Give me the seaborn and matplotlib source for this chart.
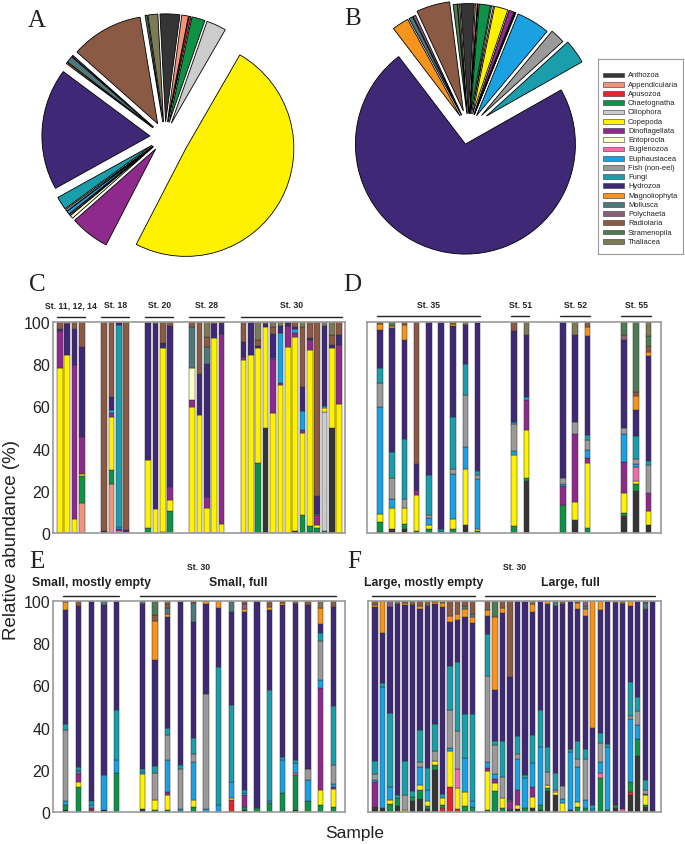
import numpy as np
import pandas as pd
import matplotlib
matplotlib.use("Agg")
import matplotlib.pyplot as plt
import seaborn as sns
from matplotlib.patches import Rectangle

# ---------------- data ----------------
CATS = ["Anthozoa", "Appendicularia", "Apusozoa", "Chaetognatha", "Ciliophora",
        "Copepoda", "Dinoflagellata", "Entoprocta", "Euglenozoa", "Euphausiacea",
        "Fish (non-eel)", "Fungi", "Hydrozoa", "Magnoliophyta", "Mollusca",
        "Polychaeta", "Radiolaria", "Stramenopila", "Thaliacea"]
CODES = ["An", "Ap", "Au", "Ch", "Ci", "Co", "Di", "En", "Eg", "Eu",
         "Fi", "Fu", "Hy", "Ma", "Mo", "Po", "Ra", "St", "Th"]
COLORS = ["#353535", "#f0957b", "#e3262b", "#0f9146", "#cccccc",
          "#fff200", "#8e2a8b", "#ffffcc", "#f06eaa", "#1ba1e2",
          "#9a9a9a", "#1a9eab", "#3f2876", "#f7941d", "#4e7879",
          "#8b5e7c", "#8b5a45", "#4e7a54", "#7d7a58"]

PIE_A = [3, 1, 0.3, 2, 3, 50, 6, 0.5, 0.2, 0.5, 0.3, 2, 18.5, 0.2, 1, 0.2, 11, 0.3, 1.5]
PIE_B = [2, 0.3, 0.1, 1.7, 0.3, 2, 0.8, 0.1, 0.1, 5, 2.2, 3.6, 74, 2.5, 0.6, 0.4, 5, 0.6, 0.3]

C_st11_12_14 = [
    dict(Co=78, Di=17.5, Hy=1, Ra=3.5),
    dict(Co=84.5, Hy=14.5, Ra=1),
    dict(Co=6.5, Di=73, Hy=17, Ra=3.5),
    dict(Ap=14, Ch=13, Co=1, Di=17.5, Hy=42.5, Ra=12),
]
C_st18 = [
    dict(An=0.5, Hy=0.5, Ra=99),
    dict(Ap=23, Ch=7, Co=25, Di=2, Eu=1.5, Hy=6, Ra=35.5),
    dict(Co=1, Di=1, Eu=1, Fu=95.5, Hy=1.5),
    dict(Di=1, Hy=0.5, Ra=98.5),
]
C_st20 = [
    dict(Ch=2.5, Co=32, Hy=65, Ra=0.5),
    dict(Co=11.5, Hy=87.5, Ra=1),
    dict(Ch=0.5, Co=87, Hy=2.5, Ra=10),
    dict(Ch=10.5, Co=5, Di=6.5, Hy=76, Ra=2),
]
C_st28 = [
    dict(Co=59.5, Di=3.5, En=15, Mo=19.5, Ra=2.5),
    dict(Co=56, Hy=19.5, Ra=24.5),
    dict(Co=12, Di=5, Hy=63, Mo=8, Ra=5, Th=7),
    dict(Co=92.5, Hy=6.5, Ra=1),
    dict(Co=4.5, Di=90, Hy=5.5),
]
C_st30 = [
    dict(Co=82, Di=1.5, Hy=7, Ra=9.5),
    dict(Co=84.5, Hy=15.5),
    dict(Ch=33, Co=54.5, Hy=1, Ra=3, Th=8.5),
    dict(An=50, Co=47.5, Hy=1.5, Ra=1),
    dict(Co=57, Di=25.5, Eu=0.5, Hy=11.5, Ra=3, Th=2.5),
    dict(Co=70, Di=1, Eu=24, Hy=3, Th=2),
    dict(Co=88, Di=10, Hy=1.5, Ra=0.5),
    dict(An=1, Co=92, Di=2, Eu=1.5, Hy=1.2, Ra=2.3),
    dict(Ch=8.5, Co=39, Di=1.5, Eu=9, Hy=11, Ra=28.5, Th=2.5),
    dict(An=0.5, Ch=3, Co=83, Di=5, Hy=1, Ra=7.5),
    dict(An=0.5, Ch=2, Co=1.5, Di=4.3, Eu=0.8, Hy=8.3, Ra=82.6),
    dict(Ch=1, Ci=56.5, Co=1.7, Eu=1, Hy=38, Th=1.8),
    dict(An=50, Co=37.5, Hy=1.5, Ra=5, Th=6),
    dict(Co=61, Di=28, Hy=5, Ra=6),
]

D_st35 = [
    dict(An=0.5, Ch=4.5, Co=4, Eu=50.5, Fi=11.5, Fu=7, Hy=18, Ma=3, Ra=1),
    dict(An=2, Co=10, Eu=4, Fi=10, Fu=12.5, Hy=58.5, Ma=1, St=2),
    dict(An=2, Ch=2.5, Co=7.5, Fi=4, Fu=28.5, Hy=47, Ma=7, Ra=1.5),
    dict(Ch=1, Co=17, Di=2.5, Hy=12, Ra=67.5),
    dict(Ch=2, Co=2, Eu=3, Fi=1.5, Fu=19, Hy=72.5),
    dict(Eu=1, Fu=1, Hy=98),
    dict(Ch=2, Co=4.5, Eu=21.5, Fi=2.5, Fu=24.5, Hy=43, Ma=1, Ra=1),
    dict(An=4, Co=26, Eu=10.5, Fi=24.5, Fu=14.5, Hy=18.5, Th=1.5),
    dict(Ch=1, Co=1, Eu=23.5, Fi=2, Fu=2, Hy=70.5),
]
D_st51 = [
    dict(Ch=3.5, Co=33.5, Eu=2, Fi=12.5, Fu=1, Hy=43, Ra=4.5),
    dict(An=24.5, Ch=1.5, Co=23, Di=14, Eu=1.5, Hy=29.5, Th=6),
]
D_st52 = [
    dict(Ch=13.5, Di=9, Eu=0.5, Fi=3, Hy=74),
    dict(An=6, Co=8.5, Di=32.5, Fi=5.5, Hy=41.5, Th=6),
    dict(Ch=2.5, Co=30.5, Di=2.5, Eu=4, Fi=4.5, Fu=2.5, Hy=47, Ma=4, Ra=2.5),
]
D_st55 = [
    dict(An=8, Ch=1.5, Co=9.5, Di=14.5, Eu=13, Fi=3, Hy=41.5, Po=2.5, St=6),
    dict(An=20, Ch=3, Co=1.5, Eg=7, Eu=1, Fi=2.5, Fu=11, Hy=12.5, Ma=6.5, Ra=2, St=33),
    dict(An=4, Co=6.5, Di=8.5, Fi=13, Fu=2, Hy=50, Ma=2, Ra=2.5, St=5, Th=6.5),
]

E_small_empty = [
    dict(An=1, Ch=2.5, Eu=1.5, Fi=34, Fu=2.5, Hy=54, Ma=4, Ra=0.5),
    dict(Ch=12, Co=2, Di=4, Eg=0.5, Eu=1, Fi=0.5, Fu=1.5, Hy=76, Ra=2.5),
    dict(Au=1, Di=1, Eu=1.5, Fu=1.5, Hy=95),
    dict(An=0.8, Eu=16.5, Hy=80.5, Mo=2),
    dict(Ch=18.5, Eu=6, Fu=24, Hy=51.5),
]
E_small_full = [
    dict(An=1.5, Co=16.5, Eu=1, Fu=1.5, Hy=78, Mo=1.5),
    dict(Ch=1, Co=4.5, Fi=13, Fu=3.5, Hy=50, Ma=18.5, Ra=3, St=6.5),
    dict(Ch=1, Co=7, Di=1.5, Eu=15, Fi=12, Fu=3.5, Hy=52.5, Ma=1.5, Mo=2.5, Ra=2, Th=1.5),
    dict(Ch=0.5, Eu=1, Fi=19, Fu=2, Hy=77, Ra=0.5),
    dict(Ch=2.5, Co=3, Eu=18, Fi=4, Fu=7.5, Hy=55, Mo=9, Ra=1),
    dict(Eu=1.5, Fi=54.5, Hy=42.5, Ma=1.5),
    dict(Eu=3.5, Fu=65, Hy=28, Ma=3.5),
    dict(Au=5.5, Co=1, Eu=7.5, Fu=36.5, Hy=44.5, Mo=5),
    dict(An=1, Ch=1.5, Di=5.5, Eu=1, Fu=1.5, Hy=84.5, Ma=1, Po=2.5, Ra=1.5),
    dict(Ch=2, Hy=98),
    dict(Ch=4.5, Eu=0.5, Fu=53, Hy=37.5, Ma=1.5, Ra=3),
    dict(Ch=9, Eu=15.5, Fu=1.5, Hy=72, Ma=1, Ra=1),
    dict(An=0.8, Ch=16.5, Eg=1, Eu=5, Fu=1.5, Hy=73.5, Ra=1.5),
    dict(Ch=5, Eu=10, Fi=5.5, Hy=77, Ra=2),
    dict(Ch=3.5, Co=7, Di=48.5, Eu=3.5, Fi=18.5, Fu=4, Hy=4, Ma=7.5, Th=3.5),
    dict(Ch=2.5, Co=8.5, Di=1, Eu=1, Fi=9, Fu=28, Hy=46.5, Ra=3),
]

F_large_empty = [
    dict(An=2.5, Di=11.5, Eu=1, Fi=2.7, Fu=6.3, Hy=72.5, Ma=1.3, Ra=1.7),
    dict(An=2, Eu=57, Fu=2, Hy=23.5, Ma=15),
    dict(Ch=4, Co=1.5, Eu=6.5, Fu=35, Hy=50, Po=3),
    dict(An=3, Ch=3.5, Fu=1.5, Hy=90.5, Th=1.5),
    dict(Co=1, Fi=7, Fu=16, Hy=74, Ma=1, Ra=1),
    dict(An=5, Ch=2, Fu=3, Hy=88, Ra=2),
    dict(An=6, Ch=4.5, Co=2.5, Eu=8.5, Fi=2, Fu=15.5, Hy=57, Ma=1.5, Ra=2.5),
    dict(An=1.5, Ch=1.5, Co=2, Eu=5.5, Fu=10.5, Hy=76.5, Ra=2.5),
    dict(An=20, Ch=2.5, Co=1.5, Fi=5, Fu=12.5, Hy=57, Ma=1, Ra=0.5),
    dict(Au=2, Ch=1.5, Co=3, Fu=2, Hy=88.5, Ma=2, Th=1),
    dict(Au=11.5, Co=17, Eu=1.5, Fi=18, Fu=20.5, Hy=20.5, Ma=3, Ra=7),
    dict(Au=1.5, Co=10, Eg=9, Fi=18, Fu=32.5, Hy=20, Ma=3, Ra=6),
    dict(Ch=3, Co=6.5, Eu=16, Fu=21, Hy=46, Ma=3.5, Mo=1.5, Ra=2.5),
    dict(Ch=2.5, Eu=2.5, Fu=41, Hy=43, Ma=3, Mo=1.5, Ra=6),
]
F_large_full = [
    dict(Ch=1, Co=18.5, Di=1.5, Eu=2.5, Fi=41, Fu=20, Hy=8.5, Ma=2.5, Ra=4.5),
    dict(Ch=10, Co=3.5, Di=2, Eu=2.5, Fi=13.5, Fu=2, Hy=24, Ma=34.5, St=7.5),
    dict(Ch=2, Co=4.5, Fi=10, Fu=17, Hy=60.5, Ma=2, Ra=3.5),
    dict(An=1, Ch=0.5, Di=3.5, Fu=0.5, Hy=58.5, Ra=36),
    dict(An=1.5, Co=2, Di=7, Eu=14.5, Fi=2.5, Fu=8.5, Hy=64),
    dict(Ch=2, Eu=14, Fu=1.5, Hy=82.5),
    dict(An=2, Co=5, Di=5, Eu=11, Fu=13.5, Hy=58.5, Ma=3.5, Th=1.5),
    dict(An=1, Ch=2.5, Eu=27.5, Fu=17.5, Hy=51.5),
    dict(An=10, Ch=1.5, Co=1.2, Eg=0.3, Fi=6, Fu=12, Hy=67.5, Ma=1.5),
    dict(An=8, Co=1.5, Eg=1, Fu=8, Hy=79, Mo=2.5),
    dict(Co=4.5, Eu=1.5, Fi=6.5, Hy=86, Ra=1.5),
    dict(An=1, Eu=27.5, Fu=1.5, Hy=70),
    dict(Ch=2.5, Co=2, Eu=16.5, Fi=4, Fu=8.5, Hy=62, Ma=3, Ra=1),
    dict(Ch=2, Eu=3.5, Fi=19.5, Fu=4.5, Hy=63, Ma=3, Mo=1.5, Po=2.5),
    dict(Ch=0.5, Eu=1, Fu=2, Hy=36.5, Ma=60),
    dict(Ch=16, Eg=2.5, Eu=5, Fi=9, Fu=5, Hy=58, Ma=4.5),
    dict(Ch=1, Eu=30, Fu=1, Hy=68),
    dict(An=2, Ch=1.5, Hy=95.5, Ra=1),
    dict(Eg=1.5, Hy=97, Ra=1.5),
    dict(An=8, Au=1.5, Ch=4.5, Eu=29.5, Fi=1.5, Fu=16, Hy=35.5, Ma=2.5),
    dict(An=26.5, Ch=8, Eu=6.5, Fi=7, Fu=6.5, Hy=45.5),
    dict(An=2.5, Ch=1, Co=4.5, Di=0.5, Fi=2, Fu=4.5, Hy=80.5, Mo=3, Ra=1),
    dict(An=1, Hy=99),
]

C_labels = ["St. 11, 12, 14", "St. 18", "St. 20", "St. 28", "St. 30"]
D_labels = ["St. 35", "St. 51", "St. 52", "St. 55"]
E_labels = ["Small, mostly empty", "Small, full"]
F_labels = ["Large, mostly empty", "Large, full"]

# ---------------- style ----------------
sns.set_theme(style="white")
plt.rcParams["font.family"] = ["Liberation Sans", "DejaVu Sans"]
NAME = dict(zip(CODES, CATS))
PAL = dict(zip(CATS, COLORS))

W, H = 685, 845
fig = plt.figure(figsize=(W / 100, H / 100), dpi=100)


def px_axes(x0, y0, x1, y1):
    return fig.add_axes([x0 / W, 1 - y1 / H, (x1 - x0) / W, (y1 - y0) / H])


def draw_pie(cx, cy, R, vals, explode, start):
    half = 140
    ax = px_axes(cx - half, cy - half, cx + half, cy + half)
    ax.pie(vals, colors=COLORS, explode=explode, startangle=start,
           counterclock=False, radius=1,
           wedgeprops=dict(edgecolor="black", linewidth=0.6))
    lim = half / R
    ax.set_xlim(-lim, lim)
    ax.set_ylim(-lim, lim)
    ax.set_aspect("equal")
    ax.axis("off")


expA = [0.14] * len(CATS)
expA[CATS.index("Copepoda")] = 0.22
draw_pie(165, 138, 108, PIE_A, expA, 93)
expB = [0.14] * len(CATS)
expB[CATS.index("Fish (non-eel)")] = 0.17
expB[CATS.index("Fungi")] = 0.2
expB[CATS.index("Radiolaria")] = 0.17
draw_pie(468.5, 130, 110, PIE_B, expB, 94)

# legend
lax = px_axes(598, 60, 683, 255)
lax.set_xlim(598, 683)
lax.set_ylim(255, 60)
lax.set_xticks([])
lax.set_yticks([])
for s in lax.spines.values():
    s.set_color("#9a9a9a")
    s.set_linewidth(0.8)
for i, (name, col) in enumerate(zip(CATS, COLORS)):
    y = 76 + i * 9.24
    lax.add_patch(Rectangle((603, y - 2.4), 21, 4.8, facecolor=col,
                            edgecolor="#333333", linewidth=0.4))
    lax.text(628, y, name, fontsize=5.4, va="center", ha="left", color="#222222")


def draw_panel(box, groups, gap, shrink, xlim, labels, show_yt,
               label_y, line_y, label_size):
    x0, y0, x1, y1 = box
    ax = px_axes(x0, y0, x1, y1)
    rows = []
    spans = []
    x = 0
    for gi, grp in enumerate(groups):
        if gi > 0:
            x += gap
        first = x
        for bar in grp:
            tot = sum(bar.values())
            for k, v in bar.items():
                rows.append((x, NAME[k], v / tot * 100))
            x += 1
        spans.append((first, x - 1))
    df = pd.DataFrame(rows, columns=["x", "taxon", "value"])
    present = [c for c in CATS[::-1] if c in set(df["taxon"])]
    sns.histplot(data=df, x="x", weights="value", hue="taxon",
                 hue_order=present, palette=PAL, multiple="stack",
                 discrete=True, shrink=shrink, edgecolor="#333333",
                 linewidth=0.35, alpha=1, legend=False, ax=ax)
    for p in ax.patches:
        if p.get_height() <= 0:
            p.set_visible(False)
    ax.set_xlim(*xlim)
    ax.set_ylim(0, 100)
    ax.set_xlabel("")
    ax.set_ylabel("")
    ax.set_xticks([])
    ax.set_yticks([0, 20, 40, 60, 80, 100])
    if show_yt:
        ax.tick_params(axis="y", length=0, pad=2, labelsize=11.5, colors="#222222")
    else:
        ax.set_yticklabels([])
        ax.tick_params(axis="y", length=0)
    for s in ax.spines.values():
        s.set_color("#9a9a9a")
        s.set_linewidth(1.2)
    fy = lambda ypx: (y1 - ypx) / (y1 - y0)
    tr = ax.get_xaxis_transform()
    for (a, b), lab in zip(spans, labels):
        xa, xb = a - shrink / 2, b + shrink / 2
        ax.plot([xa, xb], [fy(line_y)] * 2, color="#222222", lw=1.0,
                transform=tr, clip_on=False)
        ax.text((xa + xb) / 2, fy(label_y), lab, transform=tr, ha="center",
                va="center", fontsize=label_size, fontweight="bold", color="#222222")
    return ax


draw_panel((53, 323, 345, 534), [C_st11_12_14, C_st18, C_st20, C_st28, C_st30],
           2, 0.77, (-0.95, 38.8), C_labels, True, 306, 317.5, 6.2)
draw_panel((367, 323, 661, 534), [D_st35, D_st51, D_st52, D_st55],
           2, 0.46, (-1.07, 23.03), D_labels, False, 305, 317, 6.2)
axE = draw_panel((53, 602, 345, 813), [E_small_empty, E_small_full],
                 1, 0.40, (-1.0, 21.9), E_labels, True, 583, 597, 8.8)
axF = draw_panel((368, 602, 661, 813), [F_large_empty, F_large_full],
                 1, 0.70, (-0.93, 38.1), F_labels, False, 583, 597, 8.8)
for ax in (axE, axF):
    ax.text(0.5, (813 - 567) / 211, "St. 30", transform=ax.transAxes,
            ha="center", va="center", fontsize=6.2, fontweight="bold", color="#222222")

# panel letters
for lab, (px, py) in {"A": (37, 21), "B": (353, 19), "C": (37, 285),
                      "D": (352, 285), "E": (37, 562), "F": (354, 562)}.items():
    fig.text(px / W, 1 - py / H, lab, fontsize=18, ha="center", va="center",
             family=["Liberation Serif", "DejaVu Serif"], color="#222222")

fig.text(12 / W, 1 - 540 / H, "Relative abundance (%)", rotation=90,
         fontsize=13.5, ha="center", va="center", color="#222222")
fig.text(355 / W, 1 - 834 / H, "Sample", fontsize=12.5, ha="center",
         va="center", color="#222222")

fig.savefig("out.png", dpi=100)
